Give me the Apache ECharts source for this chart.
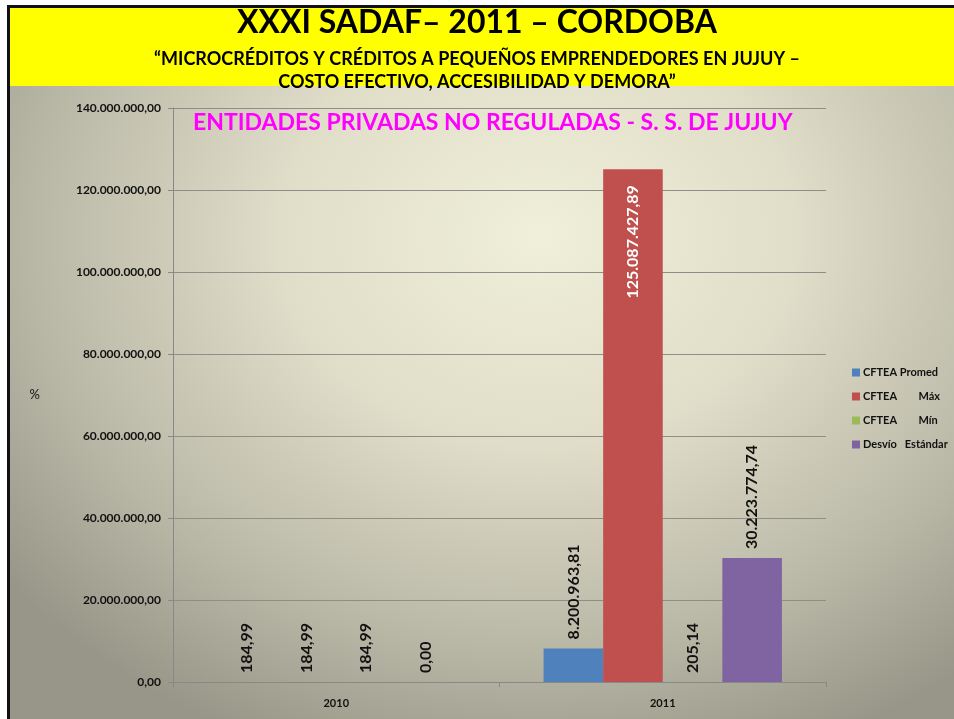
<!DOCTYPE html>
<html>
<head>
<meta charset="utf-8">
<script src="https://cdn.jsdelivr.net/npm/echarts@6/dist/echarts.min.js"></script>
<style>
  html, body { margin: 0; padding: 0; background: #fff; }
  #frame {
    position: absolute; left: 7px; top: 5px; width: 947px; height: 714px;
    border-left: 3px solid #111; border-top: 3px solid #111;
    box-sizing: border-box;
    background: radial-gradient(ellipse 72% 78% at 56% 32%, #f0efda 0%, #e0dec9 38%, #b8b6a5 75%, #989688 100%);
  }
  #head {
    position: absolute; left: 0; top: 0; right: 0; height: 78px; background: #ffff00;
  }
  #main { position: absolute; left: 0; top: 0; width: 954px; height: 719px; }
</style>
</head>
<body>
<div id="frame"><div id="head"></div></div>
<div id="main"></div>
<script>
(function(){
  // datos del gráfico
  var years = ['2010', '2011'];
  var seriesNames = ['CFTEA Promed', 'CFTEA        Máx', 'CFTEA        Mín', 'Desvío   Estándar'];
  var promed = [184.99, 8200963.81];
  var maximo = [184.99, 125087427.89];
  var minimo = [184.99, 205.14];
  var desvio = [0.00, 30223774.74];
  var colors = ['#4f81bd', '#c0504d', '#9bbb59', '#8064a2'];

  var myChart = echarts.init(document.getElementById('main'));

  // formato con punto de miles y coma decimal
  function fmt(v) {
    var parts = Number(v).toFixed(2).split('.');
    return parts[0].replace(/\B(?=(\d{3})+(?!\d))/g, '.') + ',' + parts[1];
  }

  var font = 'Lato, "Liberation Sans", sans-serif';

  var normalLabel = {
    show: true,
    position: 'top',
    rotate: 90,
    align: 'left',
    verticalAlign: 'middle',
    distance: 9,
    color: '#111',
    fontWeight: 'bold',
    fontSize: 16,
    fontFamily: font,
    formatter: function(p){ return fmt(p.value); }
  };

  function mkSeries(i, data) {
    return {
      name: seriesNames[i],
      type: 'bar',
      barGap: '0%',
      barCategoryGap: '27%',
      itemStyle: { color: colors[i] },
      label: normalLabel,
      data: data
    };
  }

  var maxSeries = mkSeries(1, maximo);
  maxSeries.data = [
    maximo[0],
    { value: maximo[1], label: { position: 'insideTop', align: 'right', distance: 16, color: '#fff' } }
  ];

  option = {
    color: colors,
    animation: false,
    textStyle: { fontFamily: font },
    title: [
      {
        text: 'XXXI SADAF– 2011 – CORDOBA',
        left: 'center', top: 2,
        textStyle: { fontSize: 32, fontWeight: 'bold', color: '#000', fontFamily: font }
      },
      {
        text: '“MICROCRÉDITOS Y CRÉDITOS A PEQUEÑOS EMPRENDEDORES EN JUJUY –',
        left: 'center', top: 45,
        textStyle: { fontSize: 18, fontWeight: 'bold', color: '#000', fontFamily: font }
      },
      {
        text: 'COSTO EFECTIVO, ACCESIBILIDAD Y DEMORA”',
        left: 'center', top: 68,
        textStyle: { fontSize: 18, fontWeight: 'bold', color: '#000', fontFamily: font }
      },
      {
        text: 'ENTIDADES PRIVADAS NO REGULADAS - S. S. DE JUJUY',
        left: 188, top: 106,
        textStyle: { fontSize: 23, fontWeight: 'bold', color: '#ff00ff', fontFamily: font }
      }
    ],
    legend: {
      orient: 'vertical',
      left: 847, top: 362,
      itemWidth: 8, itemHeight: 8, itemGap: 13,
      icon: 'rect',
      data: seriesNames,
      textStyle: { fontSize: 11, fontWeight: 'bold', color: '#111', fontFamily: font, padding: [0, 0, 0, -2] }
    },
    grid: { left: 173, right: 128, top: 108, bottom: 37 },
    xAxis: {
      type: 'category',
      data: years,
      axisLine: { lineStyle: { color: '#888', width: 1 } },
      axisTick: { show: true, lineStyle: { color: '#888' } },
      axisLabel: { color: '#111', fontWeight: 'bold', fontSize: 11, margin: 16 }
    },
    yAxis: {
      type: 'value',
      min: 0, max: 140000000, interval: 20000000,
      name: '%',
      nameLocation: 'middle',
      nameRotate: 0,
      nameGap: 133,
      nameTextStyle: { color: '#111', fontSize: 13 },
      axisLine: { show: true, lineStyle: { color: '#888' } },
      axisTick: { show: true, lineStyle: { color: '#888' } },
      splitLine: { lineStyle: { color: '#8e8e88', width: 1.2 } },
      axisLabel: { color: '#111', fontWeight: 'bold', fontSize: 12, margin: 12, formatter: fmt }
    },
    series: [
      mkSeries(0, promed),
      maxSeries,
      mkSeries(2, minimo),
      mkSeries(3, desvio)
    ]
  };

  myChart.setOption(option);
})();
</script>
</body>
</html>
